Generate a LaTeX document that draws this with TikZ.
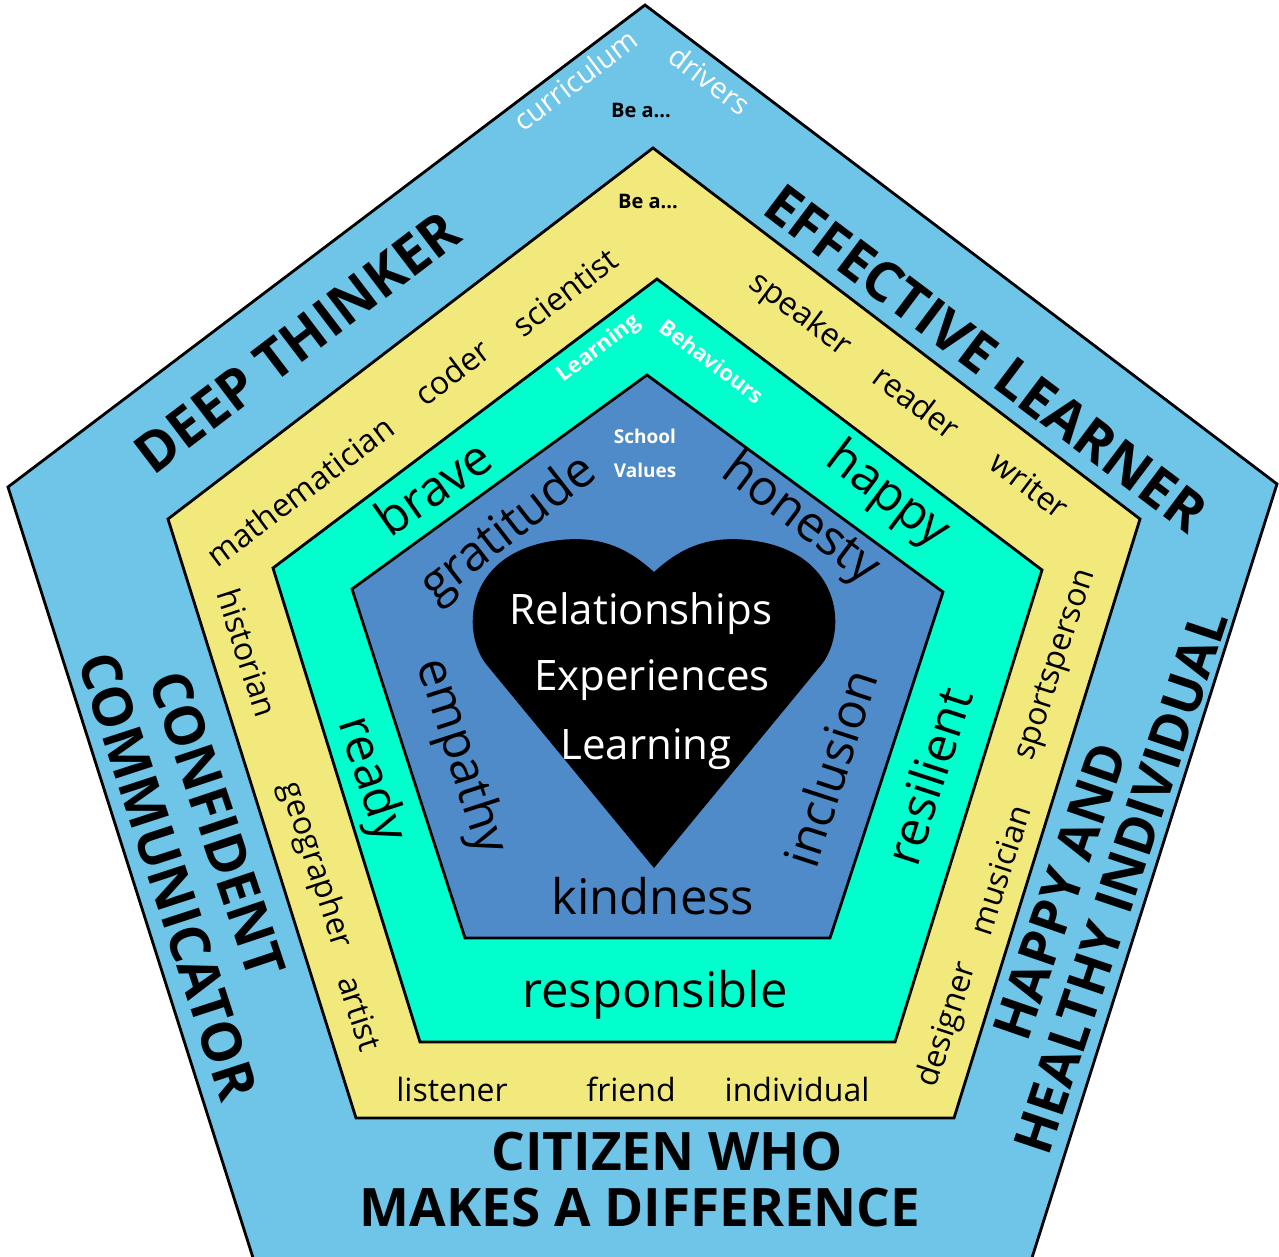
\documentclass[tikz,border=0pt]{standalone}
\usepackage{fontspec}
\setmainfont{Open Sans}
\definecolor{outerblue}{RGB}{110,197,232}
\definecolor{ringyellow}{RGB}{242,233,125}
\definecolor{ringteal}{RGB}{0,255,204}
\definecolor{coreblue}{RGB}{79,139,201}
\tikzset{
  ring/.style={draw=black, line width=2.8pt, line join=miter},
  txt/.style={inner sep=0pt, outer sep=0pt},
  bigcap/.style={txt, font=\bfseries\fontsize{53}{60}\selectfont},
  edgecap/.style={txt, font=\bfseries\fontsize{55}{62}\selectfont},
  midword/.style={txt, font=\fontsize{49}{56}\selectfont},
  smallword/.style={txt, font=\fontsize{32}{38}\selectfont},
  tinybold/.style={txt, font=\bfseries\fontsize{20}{24}\selectfont},
  corelabel/.style={txt, text=white, font=\bfseries\fontsize{19}{23}\selectfont},
  whitebold/.style={txt, text=white, font=\bfseries\fontsize{22}{26}\selectfont},
  whitereg/.style={txt, text=white, font=\fontsize{29}{34}\selectfont},
  heartword/.style={txt, text=white, font=\fontsize{42}{48}\selectfont, anchor=base},
}
\begin{document}
\begin{tikzpicture}[x=1pt,y=-1pt]
\useasboundingbox (0,0) rectangle (1279,1256);
% pentagons
\path[ring, fill=outerblue] (645,5) -- (1277,484) -- (1030,1264) -- (255,1264) -- (8,487) -- cycle;
\path[ring, fill=ringyellow] (653,148) -- (1140,519) -- (954,1118) -- (356,1118) -- (168,519) -- cycle;
\path[ring, fill=ringteal] (657,279) -- (1042,570) -- (895,1042) -- (420,1042) -- (273,568) -- cycle;
\path[ring, fill=coreblue] (647,375) -- (943,592) -- (830,938) -- (465,938) -- (352,589) -- cycle;
% heart
\fill[black] (654,868) -- (486,664) .. controls (460,630) and (466,550) .. (560,540)
  .. controls (605,535) and (632,552) .. (654,572)
  .. controls (676,552) and (703,535) .. (748,540)
  .. controls (842,550) and (848,630) .. (822,664) -- cycle;
\node[heartword] (rel) at (641,624) {Relationships};
\node[heartword] (exp) at (652,690) {Experiences};
\node[heartword] (lea) at (646,759) {Learning};
% outer ring texts
\node[whitereg, rotate=37] (curr) at (575,80) {curriculum};
\node[whitereg, rotate=-37] (driv) at (710,80) {drivers};
\node[tinybold] (bea1) at (641,110) {Be a...};
\node[edgecap, rotate=37.3] (deep) at (297,342) {DEEP THINKER};
\node[edgecap, rotate=-37] (eff) at (986,358) {EFFECTIVE LEARNER};
\node[bigcap, rotate=71] (happyand) at (1060,891) {HAPPY AND};
\node[bigcap, rotate=71.5] (healthy) at (1121,882) {HEALTHY INDIVIDUAL};
\node[edgecap, rotate=-71.5] (conf) at (218,824) {CONFIDENT};
\node[edgecap, rotate=-72] (comm) at (168,876) {COMMUNICATOR};
\node[bigcap] (cit) at (667,1152) {CITIZEN WHO};
\node[bigcap] (makes) at (640,1208) {MAKES A DIFFERENCE};
% yellow ring texts
\node[tinybold] (bea2) at (648,201) {Be a...};
\node[smallword, rotate=37] (math) at (300,491) {mathematician};
\node[smallword, rotate=37] (coder) at (452,372) {coder};
\node[smallword, rotate=37] (sci) at (565,292) {scientist};
\node[smallword, rotate=-37] (speak) at (800,315) {speaker};
\node[smallword, rotate=-37] (read) at (917,402) {reader};
\node[smallword, rotate=-37] (writ) at (1030,485) {writer};
\node[smallword, rotate=-72] (hist) at (248,653) {historian};
\node[smallword, rotate=-72] (geo) at (315,865) {geographer};
\node[smallword, rotate=-72] (art) at (360,1013) {artist};
\node[smallword, rotate=72] (sport) at (1057,665) {sportsperson};
\node[smallword, rotate=72] (mus) at (1000,870) {musician};
\node[smallword, rotate=72] (des) at (948,1025) {designer};
\node[smallword, anchor=base] (list) at (452,1101) {listener};
\node[smallword, anchor=base] (fri) at (631,1101) {friend};
\node[smallword, anchor=base] (ind) at (797,1101) {individual};
% teal ring texts
\node[whitebold, rotate=37] (lrn) at (599,349) {Learning};
\node[whitebold, rotate=-37] (beh) at (712,361) {Behaviours};
\node[midword, rotate=35] (brave) at (433,487) {brave};
\node[midword, rotate=-37] (happy) at (887,496) {happy};
\node[midword, rotate=-72] (ready) at (370,780) {ready};
\node[midword, rotate=72] (resil) at (928,776) {resilient};
\node[midword, anchor=base] (resp) at (655,1007) {responsible};
% blue core texts
\node[corelabel] (school) at (645,436) {School};
\node[corelabel] (values) at (645,470) {Values};
\node[midword, rotate=38] (grat) at (509,530) {gratitude};
\node[midword, rotate=-37] (hon) at (800,520) {honesty};
\node[midword, rotate=-72] (emp) at (460,757) {empathy};
\node[midword, rotate=72] (incl) at (830,768) {inclusion};
\node[midword, anchor=base] (kind) at (653,914) {kindness};
\end{tikzpicture}
\end{document}
